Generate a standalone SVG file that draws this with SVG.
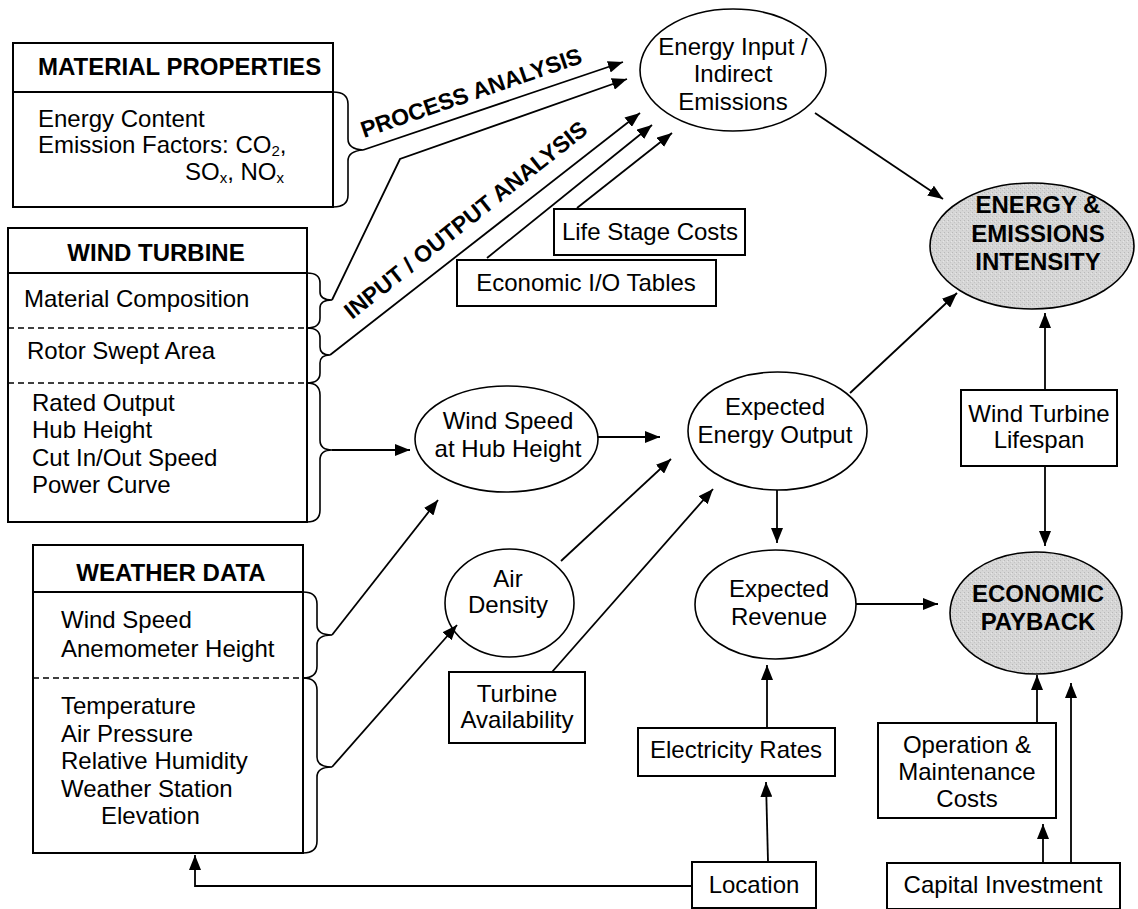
<svg xmlns="http://www.w3.org/2000/svg" width="1138" height="909" viewBox="0 0 1138 909">
<defs>
<marker id="ah" markerUnits="userSpaceOnUse" markerWidth="16" markerHeight="12" refX="15" refY="6" orient="auto">
<path d="M0,0 L15,6 L0,12 z" fill="#000"/>
</marker>
<pattern id="grain" width="4" height="4" patternUnits="userSpaceOnUse">
<rect width="4" height="4" fill="#d6d6d6"/>
<rect x="0" y="0" width="1" height="1" fill="#b8b8b8"/>
<rect x="2" y="2" width="1" height="1" fill="#c4c4c4"/>
<rect x="3" y="1" width="1" height="1" fill="#e6e6e6"/>
</pattern>
</defs>
<style>
text{font-family:"Liberation Sans",Arial,sans-serif;font-size:24px;fill:#000}
.b{font-weight:bold}
.c{text-anchor:middle}
.lbl{font-size:23px;font-weight:bold}
.box{fill:#fff;stroke:#000;stroke-width:2}
.ell{fill:#fff;stroke:#000;stroke-width:1.6}
.goal{fill:url(#grain);stroke:#000;stroke-width:1.6}
.ln{fill:none;stroke:#000;stroke-width:1.8}
.dash{fill:none;stroke:#000;stroke-width:1.6;stroke-dasharray:6 4}
.br{fill:none;stroke:#000;stroke-width:1.6}
.con{fill:none;stroke:#000;stroke-width:1.8;marker-end:url(#ah)}
.sub{font-size:15px}
</style>
<rect width="1138" height="909" fill="#fff"/>

<g id="material-properties">
<rect class="box" x="13" y="43" width="320" height="164"/>
<line class="ln" x1="13" y1="92" x2="333" y2="92"/>
<text class="b" x="38" y="75">MATERIAL PROPERTIES</text>
<text x="38" y="127">Energy Content</text>
<text x="38" y="153">Emission Factors: CO<tspan class="sub" dy="3">2</tspan><tspan dy="-3">,</tspan></text>
<text x="185" y="180">SO<tspan class="sub" dy="3">x</tspan><tspan dy="-3">, NO</tspan><tspan class="sub" dy="3">x</tspan></text>
<path class="br" d="M333,92 Q348,92 348,104 L348,139 Q348,149 363,150 Q348,151 348,161 L348,195 Q348,207 333,207"/>
</g>

<g id="wind-turbine">
<rect class="box" x="8" y="228" width="299" height="294"/>
<line class="ln" x1="8" y1="273" x2="307" y2="273"/>
<line class="dash" x1="8" y1="328" x2="307" y2="328"/>
<line class="dash" x1="8" y1="383" x2="307" y2="383"/>
<text class="b c" x="156" y="261">WIND TURBINE</text>
<text x="24" y="307">Material Composition</text>
<text x="27" y="359">Rotor Swept Area</text>
<text x="32" y="411">Rated Output</text>
<text x="32" y="438">Hub Height</text>
<text x="32" y="466">Cut In/Out Speed</text>
<text x="32" y="493">Power Curve</text>
<path class="br" d="M307,273 Q320,273 320,283 L320,292 Q320,300 332,300 Q320,300 320,308 L320,318 Q320,328 307,328"/>
<path class="br" d="M307,328 Q320,328 320,338 L320,347 Q320,355 330,355 Q320,355 320,363 L320,373 Q320,383 307,383"/>
<path class="br" d="M307,383 Q320,383 320,395 L320,440 Q320,450 332,450 Q320,450 320,460 L320,510 Q320,522 307,522"/>
</g>

<g id="weather-data">
<rect class="box" x="33" y="545" width="270" height="308"/>
<line class="ln" x1="33" y1="592" x2="303" y2="592"/>
<line class="dash" x1="33" y1="678" x2="303" y2="678"/>
<text class="b c" x="171" y="581">WEATHER DATA</text>
<text x="61" y="628">Wind Speed</text>
<text x="61" y="657">Anemometer Height</text>
<text x="61" y="714">Temperature</text>
<text x="61" y="742">Air Pressure</text>
<text x="61" y="769">Relative Humidity</text>
<text x="61" y="797">Weather Station</text>
<text x="101" y="824">Elevation</text>
<path class="br" d="M303,592 Q317,592 317,604 L317,625 Q317,635 332,635 Q317,635 317,645 L317,666 Q317,678 303,678"/>
<path class="br" d="M303,678 Q317,678 317,690 L317,757 Q317,767 332,767 Q317,767 317,777 L317,841 Q317,853 303,853"/>
</g>

<g id="energy-input">
<ellipse class="ell" cx="733" cy="70" rx="93" ry="61"/>
<text class="c" x="733" y="55">Energy Input /</text>
<text class="c" x="733" y="82">Indirect</text>
<text class="c" x="733" y="110">Emissions</text>
</g>

<g id="life-stage-costs">
<rect class="box" x="554" y="209" width="191" height="46"/>
<text class="c" x="650" y="240">Life Stage Costs</text>
</g>

<g id="economic-io-tables">
<rect class="box" x="457" y="260" width="259" height="46"/>
<text class="c" x="586" y="291">Economic I/O Tables</text>
</g>

<g id="energy-emissions-intensity">
<ellipse class="goal" cx="1032" cy="246" rx="102" ry="63"/>
<text class="b c" x="1038" y="213">ENERGY &amp;</text>
<text class="b c" x="1038" y="242">EMISSIONS</text>
<text class="b c" x="1038" y="270">INTENSITY</text>
</g>

<g id="wind-speed-hub">
<ellipse class="ell" cx="506.5" cy="439" rx="91.5" ry="53"/>
<text class="c" x="508" y="429">Wind Speed</text>
<text class="c" x="508" y="457">at Hub Height</text>
</g>

<g id="expected-energy-output">
<ellipse class="ell" cx="777.5" cy="431" rx="89.5" ry="59"/>
<text class="c" x="775" y="415">Expected</text>
<text class="c" x="775" y="443">Energy Output</text>
</g>

<g id="wind-turbine-lifespan">
<rect class="box" x="961" y="390" width="156" height="76"/>
<text class="c" x="1039" y="422">Wind Turbine</text>
<text class="c" x="1039" y="448">Lifespan</text>
</g>

<g id="air-density">
<ellipse class="ell" cx="509.5" cy="603" rx="64.5" ry="54"/>
<text class="c" x="508" y="587">Air</text>
<text class="c" x="508" y="613">Density</text>
</g>

<g id="expected-revenue">
<ellipse class="ell" cx="775.5" cy="604.5" rx="80.5" ry="54.5"/>
<text class="c" x="779" y="597">Expected</text>
<text class="c" x="779" y="625">Revenue</text>
</g>

<g id="economic-payback">
<ellipse class="goal" cx="1036" cy="613" rx="86" ry="61"/>
<text class="b c" x="1038" y="602">ECONOMIC</text>
<text class="b c" x="1038" y="630">PAYBACK</text>
</g>

<g id="turbine-availability">
<rect class="box" x="449" y="672" width="136" height="71"/>
<text class="c" x="517" y="702">Turbine</text>
<text class="c" x="517" y="728">Availability</text>
</g>

<g id="electricity-rates">
<rect class="box" x="638" y="728" width="197" height="48"/>
<text class="c" x="736" y="758">Electricity Rates</text>
</g>

<g id="om-costs">
<rect class="box" x="878" y="723" width="178" height="95"/>
<text class="c" x="967" y="753">Operation &amp;</text>
<text class="c" x="967" y="780">Maintenance</text>
<text class="c" x="967" y="807">Costs</text>
</g>

<g id="location">
<rect class="box" x="692" y="862" width="124" height="46"/>
<text class="c" x="754" y="893">Location</text>
</g>

<g id="capital-investment">
<rect class="box" x="887" y="863" width="233" height="46"/>
<text class="c" x="1003" y="893">Capital Investment</text>
</g>

<g id="connectors">
<path class="con" d="M363,150 L623,62"/>
<path class="con" d="M332,300 L400,159 L627,79"/>
<path class="con" d="M330,355 L640,113"/>
<path class="con" d="M487,258 L652,125"/>
<path class="con" d="M577,208 L672,133"/>
<path class="con" d="M815,113 L943,199"/>
<path class="con" d="M850,393 L957,293"/>
<path class="con" d="M1045,390 L1045,313"/>
<path class="con" d="M1045,466 L1045,546"/>
<path class="con" d="M777,490 L777,543"/>
<path class="con" d="M856,604 L938,604"/>
<path class="con" d="M767,728 L767,665"/>
<path class="con" d="M768,862 L766,782"/>
<path class="con" d="M692,886 L195,886 L195,855"/>
<path class="con" d="M1043,863 L1043,824"/>
<path class="con" d="M1071,863 L1071,683"/>
<path class="con" d="M1037,723 L1037,675"/>
<path class="con" d="M598,437 L660,437"/>
<path class="con" d="M561,561 L671,459"/>
<path class="con" d="M552,672 L713,489"/>
<path class="con" d="M332,450 L410,450"/>
<path class="con" d="M332,635 L438,500"/>
<path class="con" d="M332,767 L457,625"/>
<text class="lbl" transform="translate(364,138) rotate(-19)">PROCESS ANALYSIS</text>
<text class="lbl" transform="translate(352,320) rotate(-38.4)">INPUT / OUTPUT ANALYSIS</text>
</g>
</svg>
